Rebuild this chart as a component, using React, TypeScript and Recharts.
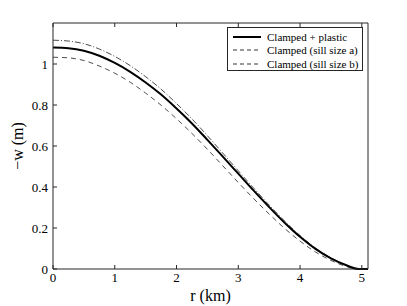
import { LineChart, Line, XAxis, YAxis, Legend, Label } from "recharts";

const radius = [0, 0.25, 0.5, 0.75, 1, 1.25, 1.5, 1.75, 2, 2.25, 2.5, 2.75, 3, 3.25, 3.5, 3.75, 4, 4.25, 4.5, 4.75, 4.95, 5.1];
const plastic = [1.08, 1.077, 1.065, 1.04, 1.005, 0.962, 0.91, 0.851, 0.783, 0.71, 0.63, 0.548, 0.465, 0.382, 0.302, 0.226, 0.157, 0.098, 0.052, 0.018, 0, 0];
const sillA = [1.116, 1.112, 1.099, 1.073, 1.037, 0.992, 0.938, 0.877, 0.807, 0.732, 0.65, 0.565, 0.479, 0.394, 0.312, 0.234, 0.163, 0.102, 0.054, 0.019, 0, 0];
const sillB = [1.033, 1.03, 1.017, 0.99, 0.955, 0.911, 0.858, 0.799, 0.733, 0.661, 0.584, 0.503, 0.422, 0.343, 0.268, 0.198, 0.136, 0.083, 0.042, 0.012, 0, 0];

const xTicks = [0, 1, 2, 3, 4, 5];
const yTicks = [0, 0.2, 0.4, 0.6, 0.8, 1];

const legendItems = [
  { label: "Clamped + plastic", dash: undefined, width: 2 },
  { label: "Clamped (sill size a)", dash: "4 3", width: 0.8 },
  { label: "Clamped (sill size b)", dash: "4 3", width: 0.8 },
];

const serif = "'Liberation Serif', 'Times New Roman', serif";
const AX = "#262626";

const data = radius.map((r, i) => ({ r, plastic: plastic[i], a: sillA[i], b: sillB[i] }));

function LegendBox() {
  return (
    <div style={{ width: 136, height: 44, border: `1px solid ${AX}`, background: "#fff", fontFamily: serif, fontSize: 11, color: "#000", padding: "2px 0 0 0", boxSizing: "border-box" }}>
      {legendItems.map((it) => (
        <div key={it.label} style={{ display: "flex", alignItems: "center", height: 13.5 }}>
          <svg width={34} height={8} style={{ marginLeft: 5 }}>
            <line x1={0} y1={4} x2={28} y2={4} stroke="#000" strokeWidth={it.width} strokeDasharray={it.dash} />
          </svg>
          <span>{it.label}</span>
        </div>
      ))}
    </div>
  );
}

export default function App() {
  return (
    <div style={{ position: "absolute", left: 0, top: 0, background: "#fff" }}>
      <LineChart width={407} height={306} data={data} margin={{ top: 22, right: 38, left: 8, bottom: 7 }}>
        <XAxis
          xAxisId="bottom"
          dataKey="r"
          type="number"
          domain={[0, 5.1]}
          ticks={xTicks}
          height={30}
          stroke={AX}
          tickSize={-4}
          tickMargin={8}
          tick={{ fill: "#000", fontSize: 13, fontFamily: serif }}
        >
          <Label
            content={() => (
              <text x={210.5} y={301} textAnchor="middle" fontFamily={serif} fontSize={16} fill="#000">r (km)</text>
            )}
          />
        </XAxis>
        <XAxis xAxisId="top" dataKey="r" type="number" domain={[0, 5.1]} ticks={xTicks} orientation="top" height={1} stroke={AX} tickSize={-4} tickFormatter={() => ""} />
        <YAxis
          yAxisId="left"
          type="number"
          domain={[0, 1.2]}
          ticks={yTicks}
          width={45}
          stroke={AX}
          tickSize={-4}
          tickMargin={9}
          tickFormatter={(v: number) => String(v)}
          tick={{ fill: "#000", fontSize: 13, fontFamily: serif }}
        >
          <Label
            content={() => (
              <text x={23} y={146} transform="rotate(-90 23 146)" textAnchor="middle" fontFamily={serif} fontSize={16} fill="#000">−w (m)</text>
            )}
          />
        </YAxis>
        <YAxis yAxisId="right" orientation="right" type="number" domain={[0, 1.2]} ticks={yTicks} width={1} stroke={AX} tickSize={-4} tickFormatter={() => ""} />
        <Legend
          layout="horizontal"
          verticalAlign="middle"
          align="center"
          content={() => <LegendBox />}
          wrapperStyle={{ position: "absolute", left: 227, top: 27, width: 136 }}
        />
        <Line xAxisId="bottom" yAxisId="left" dataKey="a" type="monotone" stroke="#000" strokeWidth={0.7} strokeDasharray="6 2 1 2" dot={false} isAnimationActive={false} />
        <Line xAxisId="bottom" yAxisId="left" dataKey="b" type="monotone" stroke="#000" strokeWidth={0.7} strokeDasharray="5 4" dot={false} isAnimationActive={false} />
        <Line xAxisId="bottom" yAxisId="left" dataKey="plastic" type="monotone" stroke="#000" strokeWidth={2} dot={false} isAnimationActive={false} />
      </LineChart>
    </div>
  );
}
